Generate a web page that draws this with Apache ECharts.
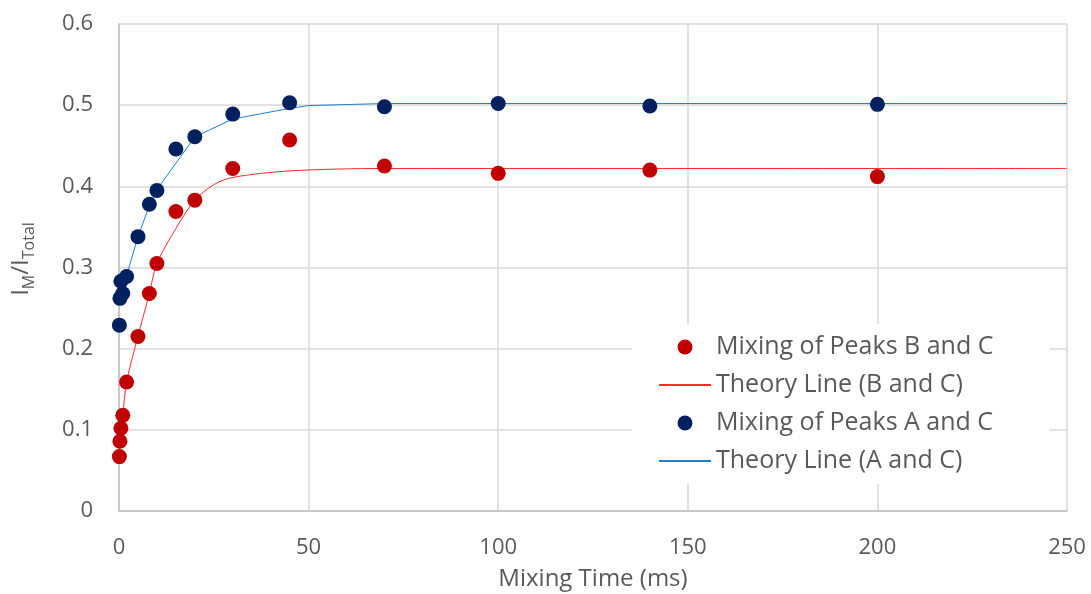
<!DOCTYPE html>
<html>
<head>
<meta charset="utf-8">
<script src="https://cdn.jsdelivr.net/npm/echarts@6/dist/echarts.min.js"></script>
<style>
  html, body { margin: 0; padding: 0; background: #fff; }
  #chart { width: 1091px; height: 594px; }
</style>
</head>
<body>
<div id="chart"></div>
<script>
// Measured fraction of mixed intensity vs. mixing time
const bcTime  = [0.1, 0.25, 0.5, 1, 2, 5, 8, 10, 15, 20, 30, 45, 70, 100, 140, 200];
const bcRatio = [0.067, 0.086, 0.102, 0.118, 0.159, 0.215, 0.268, 0.305, 0.369, 0.383, 0.422, 0.457, 0.425, 0.416, 0.420, 0.412];

const acTime  = [0.1, 0.25, 0.5, 1, 2, 5, 8, 10, 15, 20, 30, 45, 70, 100, 140, 200];
const acRatio = [0.229, 0.262, 0.283, 0.268, 0.289, 0.338, 0.378, 0.395, 0.446, 0.461, 0.489, 0.503, 0.498, 0.502, 0.499, 0.501];

// Theory curves
const bcTheoryTime  = [0, 1, 2, 5, 8, 10, 15, 20, 25, 30, 45, 70, 100, 140, 200, 250];
const bcTheoryRatio = [0.080, 0.118, 0.159, 0.215, 0.268, 0.305, 0.348, 0.383, 0.402, 0.411, 0.419, 0.422, 0.422, 0.422, 0.422, 0.422];

const acTheoryTime  = [0, 1, 2, 5, 8, 10, 20, 30, 45, 50, 70, 100, 140, 200, 250];
const acTheoryRatio = [0.262, 0.272, 0.290, 0.338, 0.376, 0.396, 0.461, 0.483, 0.496, 0.4995, 0.502, 0.502, 0.502, 0.502, 0.502];

const xTicks = { min: 0, max: 250, interval: 50 };
const yTicks = { min: 0, max: 0.6, interval: 0.1 };

const pairs = (xs, ys) => xs.map((x, i) => [x, ys[i]]);

const FONT = '"Open Sans", "Noto Sans", sans-serif';
const TEXT = '#595959';
const GRID = '#d9d9d9';

const chart = echarts.init(document.getElementById('chart'), null, { renderer: 'canvas' });

chart.setOption({
  backgroundColor: '#ffffff',
  animation: false,
  textStyle: { fontFamily: FONT, color: TEXT },
  grid: {
    left: 119, right: 24, top: 24, bottom: 83,
    containLabel: false,
    outerBoundsMode: 'none'
  },
  xAxis: {
    type: 'value',
    min: xTicks.min, max: xTicks.max, interval: xTicks.interval,
    name: 'Mixing Time (ms)',
    nameLocation: 'middle',
    nameGap: 56,
    nameTextStyle: { fontFamily: FONT, fontSize: 24, color: TEXT },
    axisLine: { show: true, lineStyle: { color: '#bfbfbf', width: 1.5 } },
    axisTick: { show: false },
    axisLabel: { fontFamily: FONT, fontSize: 22, color: TEXT, margin: 26 },
    splitLine: { show: true, lineStyle: { color: GRID, width: 1.5 } }
  },
  yAxis: {
    type: 'value',
    min: yTicks.min, max: yTicks.max, interval: yTicks.interval,
    axisLine: { show: true, lineStyle: { color: '#bfbfbf', width: 1.5 } },
    axisTick: { show: false },
    axisLabel: { fontFamily: FONT, fontSize: 22, color: TEXT, margin: 26 },
    splitLine: { show: true, lineStyle: { color: GRID, width: 1.5 } }
  },
  graphic: [{
    type: 'text',
    x: 23, y: 259,
    rotation: Math.PI / 2,
    style: {
      text: '{n|I}{s|M}{n|/I}{s|Total}',
      align: 'center',
      verticalAlign: 'middle',
      fontFamily: FONT,
      fill: TEXT,
      rich: {
        n: { fontFamily: FONT, fontSize: 24, lineHeight: 28, fill: TEXT, verticalAlign: 'top' },
        s: { fontFamily: FONT, fontSize: 16, lineHeight: 16, fill: TEXT, verticalAlign: 'bottom' }
      }
    }
  }],
  legend: {
    orient: 'vertical',
    left: 632,
    top: 324,
    padding: [8, 56, 8, 26],
    backgroundColor: '#ffffff',
    itemWidth: 52,
    itemHeight: 15,
    itemGap: 8,
    itemStyle: { borderWidth: 0 },
    textStyle: { fontFamily: FONT, fontSize: 25, color: TEXT, lineHeight: 30 },
    data: [
      { name: 'Mixing of Peaks B and C' },
      { name: 'Theory Line (B and C)', itemStyle: { opacity: 0 } },
      { name: 'Mixing of Peaks A and C' },
      { name: 'Theory Line (A and C)', itemStyle: { opacity: 0 } }
    ]
  },
  series: [
    {
      name: 'Mixing of Peaks B and C',
      type: 'scatter',
      data: pairs(bcTime, bcRatio),
      symbol: 'circle',
      symbolSize: 15,
      itemStyle: { color: '#c00000', opacity: 1 },
      z: 4
    },
    {
      name: 'Theory Line (B and C)',
      type: 'line',
      data: pairs(bcTheoryTime, bcTheoryRatio),
      showSymbol: false,
      symbol: 'none',
      smooth: 0.3,
      lineStyle: { color: '#ff2a2a', width: 1 },
      itemStyle: { color: '#ff2a2a', opacity: 0 },
      z: 2
    },
    {
      name: 'Mixing of Peaks A and C',
      type: 'scatter',
      data: pairs(acTime, acRatio),
      symbol: 'circle',
      symbolSize: 15,
      itemStyle: { color: '#002060', opacity: 1 },
      z: 4
    },
    {
      name: 'Theory Line (A and C)',
      type: 'line',
      data: pairs(acTheoryTime, acTheoryRatio),
      showSymbol: false,
      symbol: 'none',
      smooth: false,
      lineStyle: { color: '#1f7fd0', width: 1 },
      itemStyle: { color: '#1f7fd0', opacity: 0 },
      z: 2
    }
  ]
});
</script>
</body>
</html>
